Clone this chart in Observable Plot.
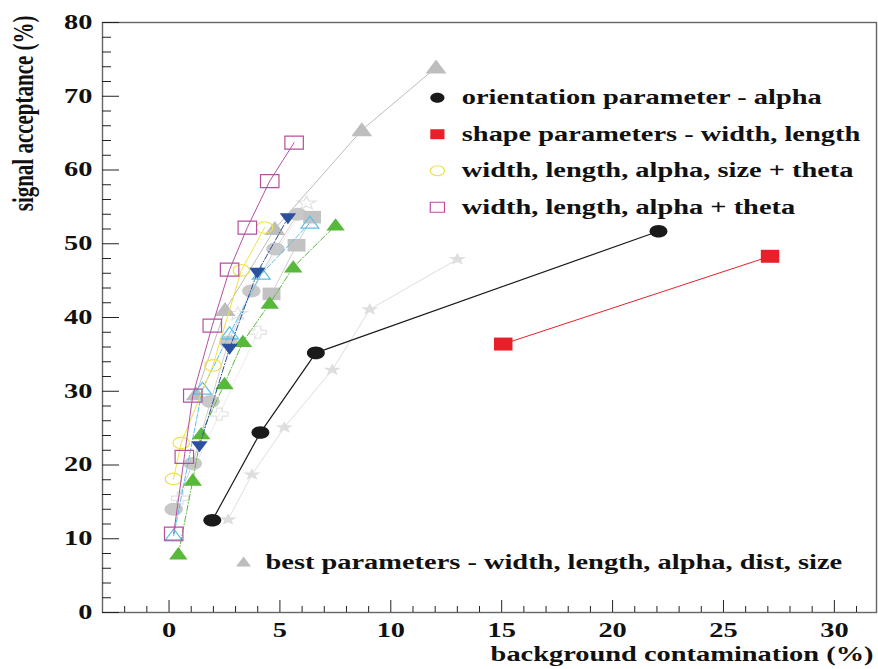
<!DOCTYPE html>
<html><head><meta charset="utf-8">
<script src="https://cdn.jsdelivr.net/npm/d3@7"></script>
<script src="https://cdn.jsdelivr.net/npm/@observablehq/plot@0.6"></script>
<style>body{margin:0;background:#fff;} svg{font-family:"Liberation Serif","Times New Roman",serif;}</style>
</head><body><div id="chart"></div>
<script>
// ---- tick labels & texts ----
const xTicks = [0, 5, 10, 15, 20, 25, 30];
const yTicks = [0, 10, 20, 30, 40, 50, 60, 70, 80];
const xTitle = "background contamination (%)";
const yTitle = "signal acceptance (%)";
const legendLabels = [
  "orientation parameter - alpha",
  "shape parameters - width, length",
  "width, length, alpha, size + theta",
  "width, length, alpha + theta"
];
const bestLabel = "best parameters - width, length, alpha, dist, size";

// ---- series: [background %, signal %] ----
const orientAlpha = [[1.95, 12.5], [4.12, 24.4], [6.62, 35.2], [22.07, 51.7]];
const shapeWL = [[15.07, 36.4], [27.1, 48.3]];
const wlasTheta = [[0.2, 18.1], [0.55, 23.0], [1.98, 33.5], [3.26, 46.4], [4.31, 52.2]];
const wlaTheta = [[0.21, 10.7], [0.69, 21.1], [1.07, 29.4], [1.95, 38.9], [2.73, 46.5], [3.53, 52.2], [4.54, 58.5], [5.64, 63.7]];
const bestParams = [[1.22, 29.6], [2.53, 41.0], [4.77, 52.0], [8.69, 65.4], [12.04, 73.9]];
const blueSeries = [[1.37, 22.6], [2.73, 35.8], [3.98, 46.1], [5.36, 53.5]];
const cyanSeries = [[0.21, 10.4], [1.51, 30.3], [2.73, 37.8], [4.16, 45.9], [6.35, 52.8]];
const greenSeries = [[0.42, 7.9], [1.07, 17.9], [1.45, 24.2], [2.5, 31.0], [3.33, 36.7], [4.54, 41.9], [5.6, 46.8], [7.51, 52.5]];
const grayCircles = [[0.21, 14.0], [1.07, 20.2], [1.87, 28.6], [2.68, 36.7], [3.71, 43.6], [4.8, 49.3], [5.8, 54.0]];
const graySquares = [[4.62, 43.2], [5.75, 49.8], [6.45, 53.6]];
const lightStars = [[2.66, 12.6], [3.74, 18.7], [5.2, 25.1], [7.36, 32.9], [9.05, 41.1], [13.0, 47.9]];
const faintCrosses = [[0.5, 15.5], [2.27, 26.9], [4.0, 38.0]];
const faintStars = [[3.1, 40.5], [6.2, 55.5]];

// ---- stretched symbols (the picture is wider than tall) ----
const SX = 1.42;
function ellipse(ctx, rx, ry) {
  const k = 0.5523;
  ctx.moveTo(rx, 0);
  ctx.bezierCurveTo(rx, k * ry, k * rx, ry, 0, ry);
  ctx.bezierCurveTo(-k * rx, ry, -rx, k * ry, -rx, 0);
  ctx.bezierCurveTo(-rx, -k * ry, -k * rx, -ry, 0, -ry);
  ctx.bezierCurveTo(k * rx, -ry, rx, -k * ry, rx, 0);
  ctx.closePath();
}
const R = (size) => Math.sqrt(size / Math.PI);
const wCircle = {draw(ctx, size) { const r = R(size); ellipse(ctx, r * SX, r); }};
const wSquare = {draw(ctx, size) { const r = R(size), w = r * SX;
  ctx.moveTo(-w, -r); ctx.lineTo(w, -r); ctx.lineTo(w, r); ctx.lineTo(-w, r); ctx.closePath(); }};
const wTriUp = {draw(ctx, size) { const r = R(size), w = r * SX * 1.05;
  ctx.moveTo(0, -1.15 * r); ctx.lineTo(w, 0.85 * r); ctx.lineTo(-w, 0.85 * r); ctx.closePath(); }};
const wTriDown = {draw(ctx, size) { const r = R(size), w = r * SX * 1.05;
  ctx.moveTo(0, 1.15 * r); ctx.lineTo(w, -0.85 * r); ctx.lineTo(-w, -0.85 * r); ctx.closePath(); }};
const wStar = {draw(ctx, size) { const r = R(size);
  for (let i = 0; i < 10; i++) { const a = -Math.PI / 2 + i * Math.PI / 5, rr = i % 2 ? r * 0.42 : r;
    const px = Math.cos(a) * rr * SX, py = Math.sin(a) * rr; i ? ctx.lineTo(px, py) : ctx.moveTo(px, py); }
  ctx.closePath(); }};
const wPlus = {draw(ctx, size) { const r = R(size), a = r * 0.35, w = r * SX, aw = a * SX;
  const pts = [[-aw,-r],[aw,-r],[aw,-a],[w,-a],[w,a],[aw,a],[aw,r],[-aw,r],[-aw,a],[-w,a],[-w,-a],[-aw,-a]];
  pts.forEach(([px, py], i) => i ? ctx.lineTo(px, py) : ctx.moveTo(px, py)); ctx.closePath(); }};

const W = 878, H = 669, mL = 102, mR = 2, mT = 22, mB = 57;
const innerW = W - mL - mR, innerH = H - mT - mB;

function series(data, {color, symbol, r, filled, dash, lineColor, lineWidth = 1, strokeWidth = 1.2}) {
  return [
    Plot.line(data, {x: d => d[0], y: d => d[1], stroke: lineColor || color, strokeWidth: lineWidth, strokeDasharray: dash}),
    Plot.dot(data, {x: d => d[0], y: d => d[1], symbol, r,
      fill: filled ? color : "none", stroke: filled ? "none" : color, strokeWidth})
  ];
}

const xMinor = d3.range(-2, 32, 1).filter(d => d % 5 !== 0);
const yMinor = d3.range(2, 80, 2).filter(d => d % 10 !== 0);
const legendSymbols = [
  {symbol: wCircle, fill: "#1a1a1a", stroke: "none"},
  {symbol: wSquare, fill: "#e8202a", stroke: "none"},
  {symbol: wCircle, fill: "none", stroke: "#ece24a"},
  {symbol: wSquare, fill: "none", stroke: "#b5509f"}
];

const chart = Plot.plot({
  width: W, height: H,
  marginLeft: mL, marginRight: mR, marginTop: mT, marginBottom: mB,
  x: {domain: [-3, 31.9], axis: null},
  y: {domain: [0, 80], axis: null},
  style: {fontFamily: "Liberation Serif, Times New Roman, serif", background: "#fff"},
  marks: [
    Plot.frame({stroke: "#666", strokeWidth: 1.4}),
    Plot.tickX(xTicks, {x: d => d, insetTop: innerH - 12, stroke: "#222"}),
    Plot.tickX(xMinor, {x: d => d, insetTop: innerH - 6, stroke: "#222"}),
    Plot.tickY(yTicks, {y: d => d, insetRight: innerW - 17, stroke: "#222"}),
    Plot.tickY(yMinor, {y: d => d, insetRight: innerW - 9, stroke: "#222"}),
    Plot.text(xTicks, {x: d => d, y: 0, text: d => String(d), dy: 18, fontSize: 20, fontWeight: "bold", fill: "#111"}),
    Plot.text(yTicks, {x: -3, y: d => d, text: d => String(d), dx: -10, textAnchor: "end", fontSize: 20, fontWeight: "bold", fill: "#111"}),
    Plot.text([xTitle], {text: d => d, frameAnchor: "bottom-right", dx: -3, dy: 48, textAnchor: "end", fontSize: 20, fontWeight: "bold", fill: "#111"}),
    Plot.text([yTitle], {text: d => d, frameAnchor: "top-left", dx: -91, dy: -7, rotate: -90, textAnchor: "end", fontSize: 21, fontWeight: "bold", fill: "#111"}),
    // faint series
    ...series(lightStars, {color: "#dedede", symbol: wStar, r: 6.5, filled: true}),
    ...series(faintCrosses, {color: "#e2e2e2", symbol: wPlus, r: 6, filled: false, lineColor: "#ececec"}),
    ...series(faintStars, {color: "#e2e2e2", symbol: wStar, r: 7, filled: false, lineColor: "#ececec"}),
    ...series(bestParams, {color: "#bdbdbd", symbol: wTriUp, r: 7, filled: true}),
    ...series(grayCircles, {color: "#c8c8c8", symbol: wCircle, r: 6.5, filled: true, lineColor: "#d0d0d0"}),
    ...series(graySquares, {color: "#c2c2c2", symbol: wSquare, r: 6.3, filled: true, lineColor: "#cfcfcf"}),
    ...series(cyanSeries, {color: "#5bbfe6", symbol: wTriUp, r: 6, filled: false, dash: "5,2"}),
    ...series(greenSeries, {color: "#58b83a", symbol: wTriUp, r: 6.2, filled: true, dash: "6,2,1,2"}),
    ...series(blueSeries, {color: "#2b50a0", symbol: wTriDown, r: 5.5, filled: true, dash: "6,2,1,2"}),
    ...series(wlasTheta, {color: "#ece24a", symbol: wCircle, r: 5.8, filled: false}),
    ...series(wlaTheta, {color: "#b5509f", symbol: wSquare, r: 6.5, filled: false}),
    ...series(orientAlpha, {color: "#1a1a1a", symbol: wCircle, r: 6.3, filled: true, lineWidth: 1.2}),
    ...series(shapeWL, {color: "#e8202a", symbol: wSquare, r: 6.5, filled: true}),
    // legend
    Plot.dot(legendSymbols, {x: 12.1, y: (d, i) => 69.8 - 4.95 * i, symbol: d => d.symbol, r: 5, fill: d => d.fill, stroke: d => d.stroke, strokeWidth: 1.2}),
    Plot.text(legendLabels, {x: 13.2, y: (d, i) => 69.8 - 4.95 * i, text: d => d, textAnchor: "start", fontSize: 20, fontWeight: "bold", fill: "#111"}),
    Plot.dot([bestLabel], {x: 3.36, y: 6.8, symbol: wTriUp, r: 5, fill: "#bdbdbd"}),
    Plot.text([bestLabel], {x: 4.35, y: 6.8, text: d => d, textAnchor: "start", fontSize: 20, fontWeight: "bold", fill: "#111"})
  ]
});
document.getElementById("chart").append(chart);
// the reference is stretched horizontally: widen glyphs to match
chart.querySelectorAll("text").forEach(t => {
  const tr = t.getAttribute("transform") || "";
  if (tr.includes("rotate")) {
    t.setAttribute("transform", tr + ` scale(1,${SX})`);
  } else {
    const L = t.getComputedTextLength();
    if (L > 0) { t.setAttribute("textLength", (L * SX).toFixed(1)); t.setAttribute("lengthAdjust", "spacingAndGlyphs"); }
  }
});
</script></body></html>
